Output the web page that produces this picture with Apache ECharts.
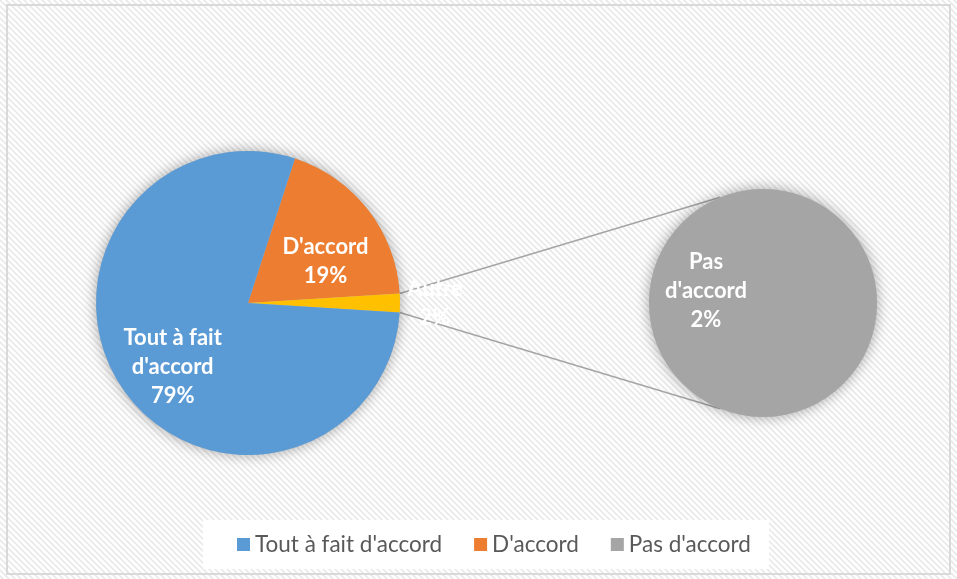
<!DOCTYPE html>
<html>
<head>
<meta charset="utf-8">
<script src="https://cdn.jsdelivr.net/npm/echarts@6/dist/echarts.min.js"></script>
<style>
  html, body { margin: 0; padding: 0; background: #fff; }
  #chart { width: 957px; height: 579px; }
</style>
</head>
<body>
<div id="chart"></div>
<script>
// données
const categories = ["Tout à fait d'accord", "D'accord", "Pas d'accord"];
const values = [79, 19, 2];
const labelNames = ["Tout à fait\nd'accord", "D'accord", "Pas\nd'accord"];
const colors = ["#5b9bd5", "#ed7d31", "#a5a5a5"];
const otherName = "Autre";
const otherColor = "#ffc000";

// mise en page (pixels)
const c1 = [248, 303], r1 = 152;
const c2 = [763, 303], r2 = 114;

const total = values.reduce((a, b) => a + b, 0);
const otherValue = values[2];
const pct = v => Math.round(v / total * 100) + "%";

// motif hachuré du fond
const tile = document.createElement("canvas");
tile.width = 6; tile.height = 6;
const g = tile.getContext("2d");
g.fillStyle = "#ffffff";
g.fillRect(0, 0, 6, 6);
g.strokeStyle = "#e9e9e9";
g.lineWidth = 1.6;
g.beginPath();
g.moveTo(-1, -1); g.lineTo(7, 7);
g.moveTo(-4, 2); g.lineTo(4, 10);
g.moveTo(2, -4); g.lineTo(10, 4);
g.stroke();

const halfOther = otherValue / total * Math.PI; // demi-angle de la part "Autre"
const startAngle = (otherValue / total * 180) + values[1] / total * 360;
const joinAngle = 112 * Math.PI / 180;

const labelFont = {
  color: "#fff",
  fontFamily: "Lato",
  fontWeight: "bold",
  fontSize: 22,
  lineHeight: 29
};
const labelBase = Object.assign({
  formatter: p => p.data.label_ + "\n" + pct(p.value)
}, labelFont);

const chart = echarts.init(document.getElementById("chart"));
chart.setOption({
  animation: false,
  backgroundColor: { image: tile, repeat: "repeat" },
  legend: {
    data: categories,
    left: 203,
    top: 520,
    padding: [13, 18, 13, 34],
    backgroundColor: "#fff",
    itemWidth: 13,
    itemHeight: 13,
    itemGap: 32,
    icon: "rect",
    selectedMode: false,
    textStyle: { fontFamily: "Lato", fontSize: 22.5, color: "#595959" }
  },
  graphic: [
    {
      type: "rect",
      shape: { x: 7, y: 5, width: 943, height: 569 },
      style: { fill: null, stroke: "#d9d9d9", lineWidth: 2 },
      silent: true
    },
    {
      type: "line",
      z: 1,
      shape: {
        x1: c1[0] + r1 * Math.cos(halfOther), y1: c1[1] - r1 * Math.sin(halfOther),
        x2: c2[0] + r2 * Math.cos(joinAngle), y2: c2[1] - r2 * Math.sin(joinAngle)
      },
      style: { stroke: "#a5a5a5", lineWidth: 1.5 }
    },
    {
      type: "line",
      z: 1,
      shape: {
        x1: c1[0] + r1 * Math.cos(halfOther), y1: c1[1] + r1 * Math.sin(halfOther),
        x2: c2[0] + r2 * Math.cos(joinAngle), y2: c2[1] + r2 * Math.sin(joinAngle)
      },
      style: { stroke: "#a5a5a5", lineWidth: 1.5 }
    }
  ],
  series: [
    // ombres
    {
      type: "pie", silent: true, center: c1, radius: r1,
      label: { show: false }, labelLine: { show: false },
      itemStyle: { color: "#bbb", shadowBlur: 14, shadowColor: "rgba(0,0,0,0.35)" },
      data: [{ name: "_s1", value: 1 }]
    },
    {
      type: "pie", silent: true, center: c2, radius: r2,
      label: { show: false }, labelLine: { show: false },
      itemStyle: { color: "#bbb", shadowBlur: 14, shadowColor: "rgba(0,0,0,0.35)" },
      data: [{ name: "_s2", value: 1 }]
    },
    {
      type: "pie",
      center: c1,
      radius: r1,
      startAngle: startAngle,
      clockwise: true,
      silent: true,
      label: Object.assign({ position: "inside" }, labelBase),
      labelLine: { show: false },
      data: [
        {
          name: categories[1], value: values[1], label_: labelNames[1],
          itemStyle: { color: colors[1] }, label: { offset: [15, 7] }
        },
        {
          name: otherName, value: otherValue, label_: otherName,
          itemStyle: { color: otherColor },
          label: {
            position: "outside",
            formatter: p => "{c|" + otherName + "}\n{c|" + pct(p.value) + "}",
            rich: { c: Object.assign({ width: 56, align: "center" }, labelFont) }
          },
          labelLine: { show: false, length: 2, length2: 0 }
        },
        {
          name: categories[0], value: values[0], label_: labelNames[0],
          itemStyle: { color: colors[0] }, label: { offset: [-10, 20] }
        }
      ]
    },
    {
      type: "pie",
      center: c2,
      radius: r2,
      startAngle: 0,
      silent: true,
      label: Object.assign({ position: "inside" }, labelBase),
      labelLine: { show: false },
      data: [
        {
          name: categories[2], value: values[2], label_: labelNames[2],
          itemStyle: { color: colors[2] }, label: { offset: [3, -12] }
        }
      ]
    }
  ]
});
</script>
</body>
</html>
